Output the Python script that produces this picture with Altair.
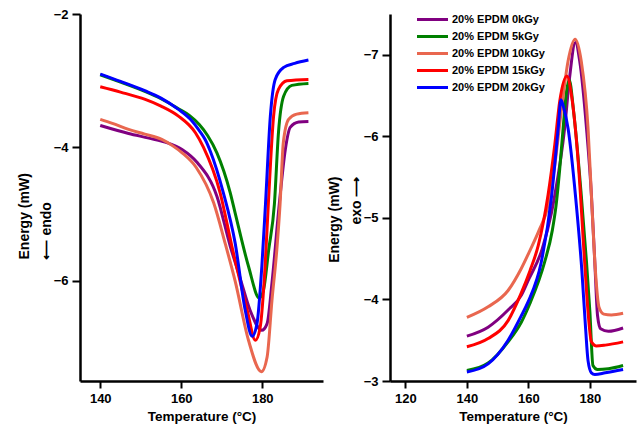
import altair as alt
import pandas as pd

series = ["20% EPDM 0kGy", "20% EPDM 5kGy", "20% EPDM 10kGy", "20% EPDM 15kGy", "20% EPDM 20kGy"]
colors = ["#800080", "#008000", "#E9674F", "#FF0000", "#0000FF"]

# ---- Left panel: melting (endo) ----
m0_T = [140, 147, 152, 156, 160.2, 164, 168.8, 172.1, 174.5, 177.0, 179.9, 181.2, 182.4, 184.2, 185.7, 186.9, 189.0, 191.4]
m0_E = [-3.67, -3.79, -3.86, -3.92, -4.03, -4.23, -4.73, -5.48, -5.95, -6.44, -6.74, -6.64, -6.03, -4.85, -4.03, -3.70, -3.62, -3.61]

m5_T = [140, 145, 151, 155, 159.3, 162, 164.5, 166.5, 168.8, 172.1, 173.3, 176.6, 179.3, 180.3, 181.6, 183.0, 184.0, 185.3, 187.3, 191.4]
m5_E = [-2.91, -3.02, -3.16, -3.27, -3.42, -3.52, -3.66, -3.82, -4.08, -4.68, -4.98, -5.78, -6.26, -6.14, -5.53, -4.85, -3.78, -3.23, -3.07, -3.04]

m10_T = [140, 143, 147, 151, 155.2, 158, 160.2, 163.7, 168.0, 170.9, 173.3, 176.6, 179.8, 181.2, 182.4, 183.6, 184.4, 185.2, 186.5, 188.5, 191.4]
m10_E = [-3.58, -3.64, -3.73, -3.80, -3.88, -3.98, -4.08, -4.30, -4.83, -5.45, -6.00, -6.89, -7.36, -7.14, -6.29, -5.53, -4.85, -3.93, -3.58, -3.50, -3.48]

m15_T = [140, 145, 151.1, 155, 159.3, 163.5, 165.5, 169.6, 172.5, 176.3, 178.3, 179.5, 180.7, 181.5, 182.8, 184.0, 186.1, 191.4]
m15_E = [-3.09, -3.17, -3.28, -3.38, -3.53, -3.78, -4.00, -4.68, -5.48, -6.44, -6.89, -6.69, -5.78, -4.85, -3.53, -3.13, -3.00, -2.98]

m20_T = [140, 145, 151, 155, 159.3, 162.6, 164.5, 165.9, 167.2, 170.4, 173.3, 175.8, 177.5, 178.7, 179.9, 180.8, 182.0, 183.2, 185.3, 188, 191.4]
m20_E = [-2.90, -3.01, -3.15, -3.26, -3.43, -3.60, -3.75, -3.88, -4.06, -4.68, -5.43, -6.44, -6.83, -6.64, -5.78, -4.85, -3.53, -2.98, -2.80, -2.74, -2.69]

# ---- Right panel: crystallization (exo) ----
c0_T = [140, 146.9, 153.4, 157.7, 159.9, 164.5, 167.5, 168.6, 171.8, 173.4, 175.3, 176.7, 178.9, 180.5, 181.6, 182.5, 183.5, 186, 190.8]
c0_E = [-3.55, -3.66, -3.87, -4.05, -4.23, -4.62, -5.06, -5.28, -6.10, -6.72, -7.15, -6.92, -6.10, -5.28, -4.46, -3.80, -3.64, -3.61, -3.65]

c5_T = [140, 146.9, 153.4, 157.7, 160.5, 165.3, 167.8, 169.0, 170.2, 171.3, 172.4, 173.3, 174.7, 177.2, 178.9, 180.0, 181.0, 182.5, 186, 190.8]
c5_E = [-3.13, -3.22, -3.48, -3.72, -3.95, -4.46, -4.85, -5.15, -5.60, -6.10, -6.55, -6.69, -6.31, -5.28, -4.46, -3.85, -3.19, -3.14, -3.15, -3.19]

c10_T = [140, 146.9, 153.4, 157.7, 160.5, 163.5, 166.4, 168.6, 170.7, 172.9, 175.2, 177.2, 179.4, 180.6, 181.8, 183.0, 184.5, 187, 190.8]
c10_E = [-3.78, -3.91, -4.11, -4.38, -4.60, -4.85, -5.15, -5.65, -6.31, -6.92, -7.19, -6.92, -6.10, -5.20, -4.35, -3.90, -3.82, -3.81, -3.83]

c15_T = [140, 146.9, 153.4, 157.7, 160.5, 163.2, 166.4, 168.6, 170.2, 172.5, 174.0, 176.2, 178.3, 179.4, 180.5, 182, 185, 190.8]
c15_E = [-3.42, -3.52, -3.74, -4.08, -4.35, -4.66, -5.28, -5.90, -6.43, -6.74, -6.51, -5.69, -4.46, -3.85, -3.48, -3.43, -3.44, -3.48]

c20_T = [140, 146.9, 153.4, 157.7, 159.9, 164.2, 167.5, 169.7, 170.6, 171.5, 172.9, 175.4, 177.4, 178.6, 179.4, 180.5, 181.6, 185, 190.8]
c20_E = [-3.11, -3.21, -3.50, -3.80, -3.97, -4.46, -5.25, -6.10, -6.45, -6.35, -6.10, -5.24, -4.35, -3.65, -3.25, -3.10, -3.08, -3.10, -3.14]

left_x_ticks = [140, 160, 180]
left_y_ticks = [-2, -4, -6]
right_x_ticks = [120, 140, 160, 180]
right_y_ticks = [-7, -6, -5, -4, -3]


def frame(Ts, Es):
    rows = []
    for k, name in enumerate(series):
        for i, (t, e) in enumerate(zip(Ts[k], Es[k])):
            rows.append({"series": name, "k": k, "i": i, "T": t, "E": e})
    return pd.DataFrame(rows)


melt_df = frame([m0_T, m5_T, m10_T, m15_T, m20_T], [m0_E, m5_E, m10_E, m15_E, m20_E])
cryst_df = frame([c0_T, c5_T, c10_T, c15_T, c20_T], [c0_E, c5_E, c10_E, c15_E, c20_E])

FONT = "Liberation Sans"
color_scale = alt.Scale(domain=series, range=colors)

ax = dict(domainColor="black", domainWidth=2.5, tickColor="black", tickWidth=2,
          labelColor="black", labelFont=FONT, labelFontSize=13, labelFontWeight="bold",
          titleColor="black", titleFont=FONT, titleFontWeight="bold", grid=False)

left = alt.Chart(melt_df).mark_line(strokeWidth=3, interpolate="monotone").encode(
    x=alt.X("T:Q", scale=alt.Scale(domain=[135, 195], nice=False, zero=False),
            axis=alt.Axis(values=left_x_ticks, title="Temperature (°C)", tickSize=7,
                          labelPadding=4, titlePadding=4, titleFontSize=13.5, **ax)),
    y=alt.Y("E:Q", scale=alt.Scale(domain=[-7.5, -2], nice=False, zero=False),
            axis=alt.Axis(values=left_y_ticks, title=["Energy (mW)", "\u27f5 endo"], tickSize=8,
                          labelPadding=4, titleAngle=270, titleX=-63, titleY=245, titleFontSize=14,
                          titleAlign="left", titleBaseline="top", titleLineHeight=22, **ax)),
    color=alt.Color("series:N", scale=color_scale, legend=None),
    order=alt.Order("i:Q"),
).properties(width=243, height=367)

right = alt.Chart(cryst_df).mark_line(strokeWidth=3, interpolate="monotone").encode(
    x=alt.X("T:Q", scale=alt.Scale(domain=[115, 195], nice=False, zero=False),
            axis=alt.Axis(values=right_x_ticks, title="Temperature (°C)", tickSize=7,
                          labelPadding=4, titlePadding=4, titleFontSize=13.5, **ax)),
    y=alt.Y("E:Q", scale=alt.Scale(domain=[-7.5, -3], nice=False, zero=False, reverse=True),
            axis=alt.Axis(values=right_y_ticks, title=["Energy (mW)", "exo \u27f6"], tickSize=8,
                          labelPadding=4, titleAngle=270, titleX=-63, titleY=162, titleFontSize=14,
                          titleAlign="right", titleBaseline="top", titleLineHeight=22, **ax)),
    color=alt.Color("series:N", scale=color_scale,
                    legend=alt.Legend(orient="none", legendX=23, legendY=-1, title=None,
                                      symbolType="M-0.5,0H5.7", symbolSize=100, symbolStrokeWidth=3,
                                      labelFont=FONT, labelFontSize=11, labelFontWeight="bold",
                                      labelColor="black", labelOffset=26, rowPadding=4, padding=0)),
    order=alt.Order("i:Q"),
).properties(width=246, height=367)

chart = alt.hconcat(left, right, spacing=4).resolve_scale(
    x="independent", y="independent", color="independent"
).resolve_legend(color="independent").properties(
    padding={"left": 17, "top": 8, "right": 5, "bottom": 5}, background="white"
).configure_view(stroke=None)

chart.save("out.html", embed_options={"renderer": "svg", "actions": False})
